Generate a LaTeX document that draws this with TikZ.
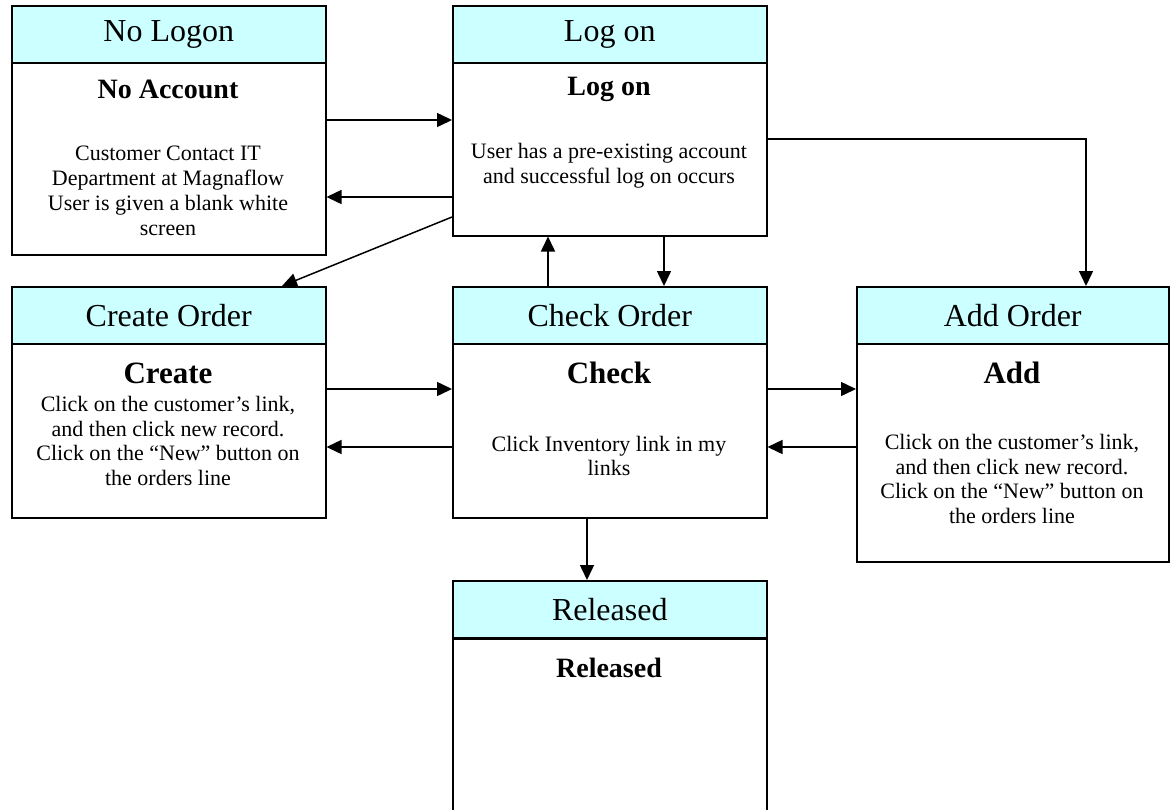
\documentclass[tikz,border=0pt]{standalone}
\usepackage{fontspec}
\setmainfont{Liberation Serif}
\usetikzlibrary{arrows.meta}
\definecolor{hdr}{RGB}{204,255,255}
\begin{document}
\begin{tikzpicture}[x=1pt,y=-1pt,
  hdrbox/.style={draw, line width=1.5pt, fill=hdr, anchor=north west, inner sep=0pt,
    minimum width=314pt, minimum height=57pt, font=\fontsize{32}{36}\selectfont},
  bodybox/.style={draw, line width=1.5pt, fill=white, anchor=north west, inner sep=0pt,
    minimum width=314pt},
  ttl/.style={font=\fontsize{28}{32}\selectfont\bfseries, inner sep=0pt},
  bigttl/.style={font=\fontsize{31}{34}\selectfont\bfseries, inner sep=0pt},
  txt/.style={font=\fontsize{22}{24.5}\selectfont, align=center, inner sep=0pt},
  arr/.style={-{Triangle[length=15pt,width=14pt]}, line width=1.5pt}]
\useasboundingbox (0,0) rectangle (1170,809);
\clip (0,0) rectangle (1170,809);

% helper coordinates
\coordinate (y120) at (0,120);
\coordinate (y197) at (0,197);
\coordinate (y217) at (0,217);
\coordinate (y139) at (0,139);
\coordinate (y389) at (0,389);
\coordinate (y447) at (0,447);
\coordinate (x282) at (282,0);
\coordinate (x548) at (548,0);
\coordinate (x664) at (664,0);
\coordinate (x1086) at (1086,0);
\coordinate (x587) at (587,0);
\coordinate (corner) at (1086,139);

% No Logon
\node[bodybox, minimum height=192pt] (nlb) at (11,62) {};
\node[hdrbox] (nlh) at (11,5) {No Logon};
\node[ttl] (nlt) at (168,89) {No Account};
\node[txt, font=\fontsize{22}{25}\selectfont] (nlx) at (168,191) {Customer Contact IT\\Department at Magnaflow\\User is given a blank white\\screen};

% Log on
\node[bodybox, minimum height=173pt] (lob) at (452,62) {};
\node[hdrbox] (loh) at (452,5) {Log on};
\node[ttl] (lot) at (609,89) {Log on};
\node[txt, font=\fontsize{22}{25}\selectfont] (lox) at (609,166) {User has a pre-existing account\\and successful log on occurs};

% Create Order
\node[bodybox, minimum height=174pt] (crb) at (11,343) {};
\node[hdrbox] (crh) at (11,286) {Create Order};
\node[bigttl] (crt) at (168,373) {Create};
\node[txt] (crx) at (168,441) {Click on the customer’s link,\\and then click new record.\\Click on the “New” button on\\the orders line};

% Check Order
\node[bodybox, minimum height=174pt] (chb) at (452,343) {};
\node[hdrbox] (chh) at (452,286) {Check Order};
\node[bigttl] (cht) at (609,373) {Check};
\node[txt] (chx) at (609,456) {Click Inventory link in my\\links};

% Add Order
\node[bodybox, minimum width=312pt, minimum height=218pt] (adb) at (856,343) {};
\node[hdrbox, minimum width=312pt] (adh) at (856,286) {Add Order};
\node[bigttl] (adt) at (1012,373) {Add};
\node[txt] (adx) at (1012,479) {Click on the customer’s link,\\and then click new record.\\Click on the “New” button on\\the orders line};

% Released
\node[bodybox, minimum height=200pt] (reb) at (452,638) {};
\node[hdrbox] (reh) at (452,580) {Released};
\node[ttl] (ret) at (609,668) {Released};

% connectors
\draw[arr] (nlb.east |- y120) -- (lob.west |- y120);
\draw[arr] (lob.west |- y197) -- (nlb.east |- y197);
\draw[arr] (lob.west |- y217) -- (crh.north -| x282);
\draw[arr] (lob.east |- corner) -- (corner) -- (adh.north -| corner);
\draw[arr] (chh.north -| x548) -- (lob.south -| x548);
\draw[arr] (lob.south -| x664) -- (chh.north -| x664);
\draw[arr] (crb.east |- y389) -- (chb.west |- y389);
\draw[arr] (chb.west |- y447) -- (crb.east |- y447);
\draw[arr] (chb.east |- y389) -- (adb.west |- y389);
\draw[arr] (adb.west |- y447) -- (chb.east |- y447);
\draw[arr] (chb.south -| x587) -- (reh.north -| x587);
\end{tikzpicture}
\end{document}
